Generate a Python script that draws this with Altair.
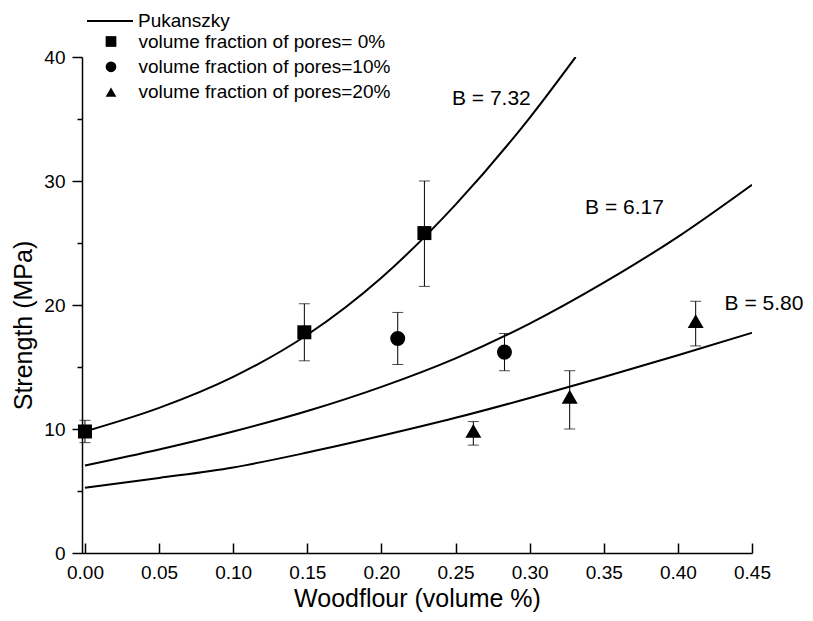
import altair as alt
import pandas as pd

FONT = "Liberation Sans"

# ---- Pukanszky model curves ----
curve_names = ["B = 7.32", "B = 6.17", "B = 5.80"]
c1_x = [0.0, 0.05, 0.10, 0.15, 0.20, 0.25, 0.30, 0.331]
c1_y = [9.8, 11.7, 14.2, 17.6, 22.2, 28.1, 35.1, 40.0]
c2_x = [0.0, 0.05, 0.10, 0.15, 0.20, 0.25, 0.30, 0.35, 0.40, 0.45]
c2_y = [7.06, 8.35, 9.8, 11.45, 13.4, 15.7, 18.5, 21.8, 25.5, 29.7]
c3_x = [0.0, 0.05, 0.10, 0.15, 0.20, 0.25, 0.30, 0.35, 0.40, 0.45]
c3_y = [5.26, 6.05, 6.9, 8.1, 9.45, 10.9, 12.5, 14.2, 15.95, 17.76]

# ---- measured points ----
series_names = ["volume fraction of pores= 0%",
                "volume fraction of pores=10%",
                "volume fraction of pores=20%"]
p0_x = [0.0, 0.148, 0.229]
p0_y = [9.8, 17.8, 25.8]
p0_lo = [8.9, 15.5, 21.5]
p0_hi = [10.7, 20.1, 30.0]
p10_x = [0.211, 0.283]
p10_y = [17.3, 16.2]
p10_lo = [15.2, 14.7]
p10_hi = [19.4, 17.7]
p20_x = [0.262, 0.327, 0.412]
p20_y = [9.85, 12.6, 18.7]
p20_lo = [8.7, 10.0, 16.7]
p20_hi = [10.6, 14.7, 20.3]

# ---- B annotations ----
label_text = ["B = 7.32", "B = 6.17", "B = 5.80"]
label_x = [0.2476, 0.3374, 0.4315]
label_y = [36.65, 27.84, 20.12]

x_ticks = [round(i * 0.025, 3) for i in range(19)]
y_ticks = list(range(0, 41, 5))

# ---- tables ----
curve_rows = []
for name, xs, ys in zip(curve_names, [c1_x, c2_x, c3_x], [c1_y, c2_y, c3_y]):
    for i, (a, b) in enumerate(zip(xs, ys)):
        curve_rows.append({"curve": name, "order": i, "x": a, "y": b, "model": "Pukanszky"})
curves = pd.DataFrame(curve_rows)

pt_rows = []
for name, xs, ys, los, his in zip(series_names,
                                  [p0_x, p10_x, p20_x], [p0_y, p10_y, p20_y],
                                  [p0_lo, p10_lo, p20_lo], [p0_hi, p10_hi, p20_hi]):
    for a, b, lo, hi in zip(xs, ys, los, his):
        pt_rows.append({"series": name, "x": a, "y": b, "lo": lo, "hi": hi})
pts = pd.DataFrame(pt_rows)
caps = pd.concat([
    pts[["x", "lo"]].rename(columns={"lo": "v"}),
    pts[["x", "hi"]].rename(columns={"hi": "v"}),
])
labels = pd.DataFrame({"t": label_text, "x": label_x, "y": label_y})

xscale = alt.Scale(domain=[-0.002, 0.45], nice=False, zero=False)
yscale = alt.Scale(domain=[0, 40], nice=False)

x_major = "abs(datum.value*20 - round(datum.value*20)) < 0.001"
xaxis = alt.Axis(
    values=x_ticks, grid=False,
    tickSize=alt.ExprRef(expr=f"({x_major}) ? -10 : -5"),
    labelExpr=f"({x_major}) ? format(datum.value, '.2f') : ''",
    labelFlush=False, labelOverlap=False, labelBound=False,
    labelFont=FONT, labelFontSize=19, labelColor="black", labelPadding=20,
    domainColor="black", domainWidth=1.5, tickColor="black", tickWidth=1.5,
    title="Woodflour (volume %)", titleFont=FONT, titleFontSize=25,
    titleFontWeight="normal", titleColor="black",
    titleX=335, titleY=53.5, titleAlign="center", titleBaseline="alphabetic",
)
yaxis = alt.Axis(
    values=y_ticks, grid=False,
    tickSize=alt.ExprRef(expr="datum.value % 10 == 0 ? 10 : 5"),
    labelExpr="datum.value % 10 == 0 ? datum.label : ''",
    labelFlush=False, labelOverlap=False, labelBound=False,
    labelFont=FONT, labelFontSize=19, labelColor="black", labelPadding=7,
    domainColor="black", domainWidth=1.5, tickColor="black", tickWidth=1.5,
    title="Strength (MPa)", titleFont=FONT, titleFontSize=25,
    titleFontWeight="normal", titleColor="black",
    titleX=-51, titleY=268, titleAngle=270, titleAlign="center",
    titleBaseline="alphabetic",
)

X = alt.X("x:Q", scale=xscale, axis=xaxis)
Y = alt.Y("y:Q", scale=yscale, axis=yaxis)

err = alt.Chart(pts).mark_rule(color="black", strokeWidth=1).encode(
    x=alt.X("x:Q", scale=xscale), y=alt.Y("lo:Q", scale=yscale), y2="hi:Q")
cap = alt.Chart(caps).mark_tick(orient="horizontal", size=11, thickness=1, color="black").encode(
    x=alt.X("x:Q", scale=xscale), y=alt.Y("v:Q", scale=yscale))

lines = alt.Chart(curves).mark_line(strokeWidth=2, interpolate="monotone", clip=True).encode(
    x=X, y=Y, detail="curve:N", order="order:Q",
    color=alt.Color("model:N", scale=alt.Scale(domain=["Pukanszky"], range=["black"]),
                    legend=alt.Legend(title=None, orient="none", legendX=4, legendY=-60,
                                      symbolType="stroke", symbolSize=2116,
                                      symbolStrokeWidth=2, symbolStrokeColor="black",
                                      labelFont=FONT, labelFontSize=19, labelColor="black",
                                      labelOffset=4, labelLimit=400, padding=0)),
)

points = alt.Chart(pts).mark_point(filled=True, opacity=1, color="black").encode(
    x=alt.X("x:Q", scale=xscale), y=alt.Y("y:Q", scale=yscale),
    shape=alt.Shape("series:N",
                    scale=alt.Scale(domain=series_names, range=["square", "circle", "triangle-up"]),
                    legend=alt.Legend(title=None, orient="none", legendX=19.5, legendY=-25,
                                      symbolSize=115, symbolFillColor="black",
                                      symbolStrokeColor="black", symbolOpacity=1,
                                      labelFont=FONT, labelFontSize=19, labelColor="black",
                                      labelOffset=18, labelLimit=400, rowPadding=5.3,
                                      padding=0)),
    size=alt.Size("series:N", scale=alt.Scale(domain=series_names, range=[196, 256, 400]),
                  legend=None),
)

text = alt.Chart(labels).mark_text(align="left", baseline="middle", font=FONT,
                                   fontSize=21, color="black").encode(
    x=alt.X("x:Q", scale=xscale), y=alt.Y("y:Q", scale=yscale), text="t:N")

chart = alt.layer(lines, err, cap, points, text).properties(
    width=670, height=496,
    autosize=alt.AutoSizeParams(type="none"),
    padding={"left": 74, "top": 49, "right": 53, "bottom": 60},
    background="white",
).configure_view(stroke=None).resolve_legend(shape="independent", color="independent")

chart.save("out.html", embed_options={"renderer": "svg", "actions": False})
